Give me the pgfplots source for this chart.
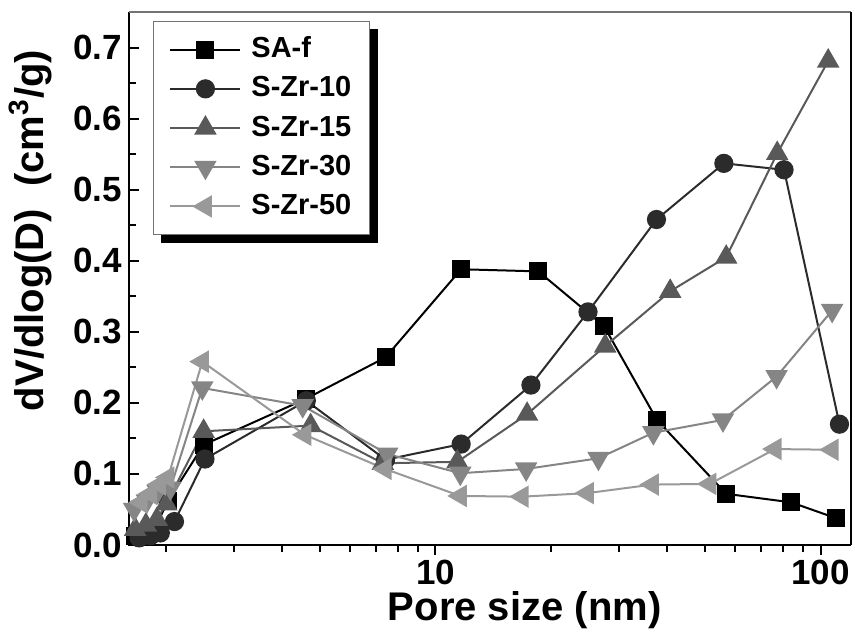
\documentclass[border=0pt]{standalone}
\usepackage{fontspec}
\setmainfont{Liberation Sans}
\usepackage{pgfplots}
\pgfplotsset{compat=1.18}
\pgfdeclarelayer{background}
\pgfsetlayers{background,main}
\definecolor{cA}{gray}{0}
\definecolor{cB}{gray}{0.17}
\definecolor{cC}{gray}{0.35}
\definecolor{cD}{gray}{0.52}
\definecolor{cE}{gray}{0.60}
\begin{document}
\begin{tikzpicture}
\path[use as bounding box] (-64.5pt,-45pt) rectangle (363pt,272.5pt);
\begin{axis}[
  at={(0,0)}, anchor=south west,
  scale only axis, width=361pt, height=266.5pt,
  xmode=log, xmin=1.6, xmax=120, ymin=0, ymax=0.75,
  clip=false,
  xtick={10,100}, xticklabels={10,100},
  minor xtick={2,3,4,5,6,7,8,9,20,30,40,50,60,70,80,90},
  ytick={0,0.1,0.2,0.3,0.4,0.5,0.6,0.7},
  minor ytick={0.05,0.15,0.25,0.35,0.45,0.55,0.65},
  xtick pos=bottom, ytick pos=left,
  xtick align=outside, ytick align=inside,
  major tick length=5pt, minor tick length=3.5pt,
  every tick/.style={black, line width=1pt},
  axis line style={draw=none},
  ticklabel style={font=\fontsize{17.5}{20}\selectfont\bfseries},
  xticklabel style={yshift=1pt},
  yticklabel style={/pgf/number format/.cd, fixed, fixed zerofill, precision=1, assume math mode=true},
  xlabel={Pore size (nm)},
  ylabel={dV/dlog(D)\ \ (cm\textsuperscript{3}/g)},
  every axis x label/.style={at={(rel axis cs:0.548,0)}, anchor=center, yshift=-32.5pt, font=\fontsize{20}{24}\selectfont\bfseries},
  every axis y label/.style={at={([xshift=-49.5pt]rel axis cs:0,0.59)}, anchor=center, rotate=90, font=\fontsize{20}{24}\selectfont\bfseries},
  legend style={name=leg, at={(0.033,0.983)}, anchor=north west, draw=black!55, line width=0.6pt, fill=white,
    font=\fontsize{14.5}{17}\selectfont\bfseries,
    inner xsep=8pt, inner ysep=6pt, row sep=3.6pt, column sep=4pt,
    nodes={inner sep=1pt, text height=11pt, text depth=3pt}},
  legend cell align=left,
  legend image code/.code={\draw[mark repeat=2,mark phase=2] plot coordinates {(0pt,0pt) (17.5pt,0pt) (35pt,0pt)};},
]
\addplot[cA, line width=1pt, mark=square*, mark size=4pt, mark options={solid, fill=cA}] coordinates {
(1.66,0.012) (1.76,0.016) (1.87,0.024) (2.02,0.062) (2.50,0.141) (4.62,0.206) (7.42,0.264) (11.66,0.388) (18.5,0.385) (27.4,0.308) (37.6,0.176) (56.9,0.072) (83.9,0.060) (109.4,0.038)};
\addlegendentry{SA-f}
\addplot[cB, line width=1pt, mark=*, mark size=4.3pt, mark options={solid, fill=cB}] coordinates {
(1.70,0.010) (1.82,0.013) (1.93,0.017) (2.10,0.033) (2.52,0.121) (4.62,0.203) (7.42,0.120) (11.66,0.142) (17.7,0.225) (24.9,0.328) (37.5,0.458) (56.1,0.537) (80.4,0.528) (112,0.170)};
\addlegendentry{S-Zr-10}
\addplot[cC, line width=1pt, mark=triangle*, mark size=5.5pt, mark options={solid, fill=cC}] coordinates {
(1.66,0.022) (1.77,0.028) (1.89,0.036) (2.0,0.058) (2.50,0.160) (4.74,0.168) (7.3,0.115) (11.4,0.117) (17.3,0.184) (27.6,0.280) (40.7,0.357) (56.9,0.405) (77.2,0.551) (104.7,0.681)};
\addlegendentry{S-Zr-15}
\addplot[cD, line width=1pt, mark=triangle*, mark size=5.5pt, mark options={solid, fill=cD, rotate=180}] coordinates {
(1.65,0.050) (1.78,0.062) (1.90,0.075) (2.05,0.080) (2.48,0.221) (4.52,0.196) (7.5,0.128) (11.6,0.101) (17.2,0.107) (26.5,0.122) (36.8,0.158) (55.8,0.176) (76.9,0.237) (107.2,0.330)};
\addlegendentry{S-Zr-30}
\addplot[cE, line width=1pt, mark=triangle*, mark size=5.5pt, mark options={solid, fill=cE, rotate=90}] coordinates {
(1.72,0.060) (1.82,0.072) (1.92,0.085) (2.02,0.095) (2.48,0.258) (4.58,0.155) (7.4,0.107) (11.6,0.069) (16.8,0.068) (24.8,0.073) (36.6,0.085) (51.6,0.086) (76.2,0.135) (107.2,0.134)};
\addlegendentry{S-Zr-50}
\draw[black, line width=1.3pt] (rel axis cs:0,1) |- (rel axis cs:1,0);
\draw[black!55, line width=0.6pt] (rel axis cs:0,1) -- (rel axis cs:1,1);
\draw[black, line width=0.6pt] (rel axis cs:1,1) -- (rel axis cs:1,0);
\end{axis}
\begin{pgfonlayer}{background}
\fill[black] ([xshift=4pt,yshift=-4pt]leg.south west) rectangle ([xshift=4pt,yshift=-4pt]leg.north east);
\end{pgfonlayer}
\end{tikzpicture}
\end{document}
